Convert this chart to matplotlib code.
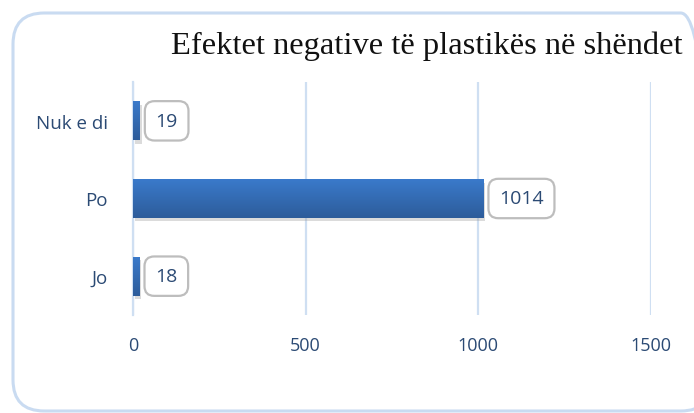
import matplotlib
matplotlib.use("Agg")
import matplotlib.pyplot as plt
import numpy as np
from matplotlib.patches import FancyBboxPatch
import matplotlib.patheffects as pe
from matplotlib.colors import LinearSegmentedColormap

categories = ["Jo", "Po", "Nuk e di"]
values = [18, 1014, 19]
xticks = [0, 500, 1000, 1500]
title = "Efektet negative të plastikës në shëndet"

W, H = 694, 414
fig = plt.figure(figsize=(W / 100, H / 100), dpi=100)
fig.patch.set_facecolor("white")

# outer rounded frame
frame = FancyBboxPatch((13 / W, (H - 412) / H), (712 - 13) / W, (412 - 14) / H,
                       boxstyle="round,pad=0,rounding_size=0.045",
                       transform=fig.transFigure, facecolor="none",
                       edgecolor="#c9dbf1", linewidth=2.2, zorder=0,
                       mutation_aspect=W / H)
fig.patches.append(frame)

ax = fig.add_axes([133 / W, 1 - 316 / H, (651 - 133) / W, (316 - 83) / H])
ax.set_facecolor("none")

txt_color = "#2b4a74"
font = "Open Sans"

ypos = np.arange(len(categories))
bars = ax.barh(ypos, values, height=0.5, color="#3672bd", zorder=3,
               path_effects=[pe.SimplePatchShadow(offset=(1.5, -2.5), shadow_rgbFace="#9a9a9a", alpha=0.35),
                             pe.Normal()])

# vertical gradient inside bars
grad = np.linspace(0, 1, 256).reshape(-1, 1)
cmap = LinearSegmentedColormap.from_list("g", ["#2d5c9a", "#3a7acb"])
for b in bars:
    x0, y0 = b.get_x(), b.get_y()
    w, h = b.get_width(), b.get_height()
    im = ax.imshow(grad, cmap=cmap, aspect="auto", extent=[x0, x0 + w, y0, y0 + h],
                   origin="lower", zorder=4)
    im.set_clip_path(b)
ax.set_xlim(0, 1500)
ax.set_ylim(-0.5, 2.5)

for y, v in zip(ypos, values):
    ax.annotate(f"{v}", xy=(v, y), xytext=(11.5, 0), textcoords="offset points",
                ha="left", va="center", fontsize=14, family=font, color=txt_color,
                bbox=dict(boxstyle="round,pad=0.55,rounding_size=0.5", fc="white",
                          ec="#bdbdbd", lw=1.6), zorder=6)

ax.set_xticks(xticks)
ax.set_xticklabels([str(t) for t in xticks], fontsize=13, family=font, color=txt_color)
ax.set_yticks(ypos)
ax.set_yticklabels(categories, fontsize=13.5, family=font, color=txt_color)
ax.tick_params(axis="both", length=0)
ax.tick_params(axis="x", pad=15)
ax.tick_params(axis="y", pad=18)
ax.grid(axis="x", color="#cfdff2", linewidth=1.6, zorder=1)
ax.set_axisbelow(True)
for s in ["top", "right", "bottom"]:
    ax.spines[s].set_visible(False)
ax.spines["left"].set_color("#cfdff2")
ax.spines["left"].set_linewidth(1.6)

fig.text(427 / W, 1 - 46 / H, title, ha="center", va="center",
         fontsize=23.4, family="Liberation Serif", color="#111111")

fig.savefig("out.png", dpi=100, facecolor="white")
